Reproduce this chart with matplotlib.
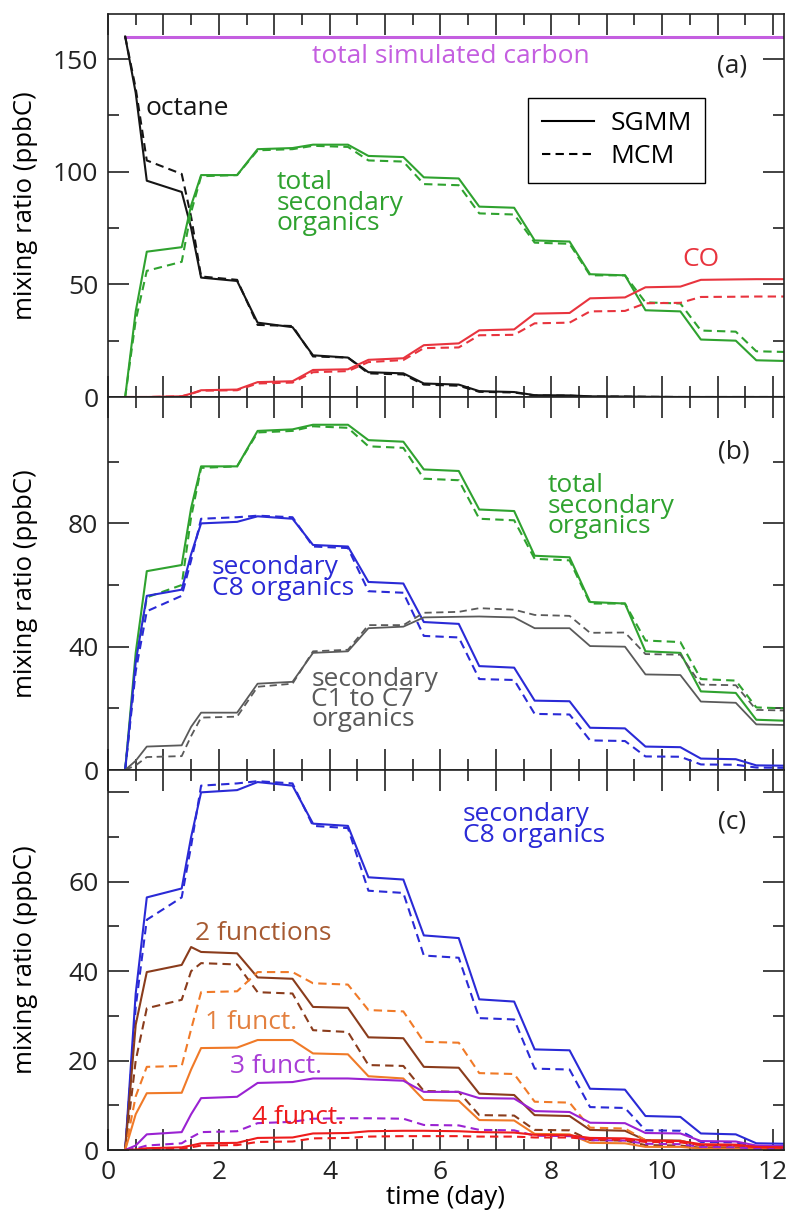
import matplotlib
matplotlib.use("Agg")
import matplotlib.pyplot as plt
from matplotlib.ticker import MultipleLocator, FixedLocator, FuncFormatter
from matplotlib.lines import Line2D

plt.rcParams['font.family'] = ['Open Sans', 'DejaVu Sans']

# time knots (day) shared by all series
t = [0.31, 0.5, 0.7, 1.33, 1.5, 1.68, 2.33, 2.7, 3.33, 3.7, 4.33, 4.7, 5.33, 5.7,
     6.33, 6.7, 7.33, 7.7, 8.33, 8.7, 9.33, 9.7, 10.33, 10.7, 11.33, 11.7, 12.2]

# ---- panel (a)
carbon_t = [0.31, 12.2]
carbon_total = [160, 160]
octane_sgmm = [160, 135, 96, 91, 75, 53, 51.5, 33, 31, 18.5, 17.5, 11, 10.5, 6,
               5.5, 2.6, 2.2, 0.8, 0.7, 0.3, 0.2, 0.1, 0, 0, 0, 0, 0]
octane_mcm = [160, 137, 105, 99, 80, 53.5, 52, 32, 31.5, 18, 17.5, 10.5, 10, 5.5,
              5, 2.3, 2, 0.7, 0.6, 0.2, 0.2, 0.1, 0, 0, 0, 0, 0]
co_sgmm = [0, 0, 0, 0.3, 1.5, 3, 3.3, 6.6, 7, 12, 12.3, 16.5, 17.2, 23, 23.8, 29.6,
           30, 37, 37.3, 43.8, 44.2, 48.7, 49, 52, 52.2, 52.3, 52.3]
co_mcm = [0, 0, 0, 0.3, 1.4, 2.8, 3, 6, 6.4, 11, 11.5, 15.5, 16.4, 21.7, 22, 27.4,
          27.6, 32.7, 33, 38, 38.2, 41.6, 41.8, 44.4, 44.5, 44.6, 44.6]

# ---- panel (b)
sec_total_sgmm = [0, 38, 64.5, 66.5, 85, 98.5, 98.5, 110, 110.5, 112, 112, 107, 106.5,
                  97.5, 97, 84.5, 84, 69.5, 69, 54.5, 54, 38.5, 38, 25.5, 25, 16.3, 16]
sec_total_mcm = [0, 34, 56, 60, 82, 98, 98.5, 109.5, 110, 111.5, 111, 105, 104.5,
                 94.5, 94, 81.5, 81, 68.5, 68, 54, 54, 42, 41.5, 29.5, 29, 20.3, 20]
c8_sgmm = [0, 35, 56.5, 58.5, 70, 80, 80.5, 82.3, 81.5, 73, 72.5, 61, 60.5, 48, 47.4,
           33.7, 33.2, 22.5, 22.3, 13.7, 13.5, 7.6, 7.4, 3.7, 3.5, 1.5, 1.4]
c8_mcm = [0, 32, 51.5, 56.5, 68, 81.5, 82, 82.5, 82, 72.5, 72, 58, 57.5, 43.5, 43,
          29.5, 29.2, 18.2, 18, 9.6, 9.4, 4.4, 4.3, 1.8, 1.7, 0.8, 0.7]
c1c7_sgmm = [0, 3, 7.6, 8, 14, 18.6, 18.6, 28, 28.6, 38, 38.5, 46, 46.5, 49.5, 49.7,
             49.8, 49.5, 46, 46, 40.2, 40, 31, 30.8, 22.2, 21.8, 14.8, 14.6]
c1c7_mcm = [0, 1.5, 4.2, 4.5, 11, 17, 17.3, 27, 28, 38.5, 39, 47, 47, 51, 51.3, 52.5,
            52, 50.3, 50, 44.5, 44.6, 37.6, 37.4, 27.7, 27.5, 19.5, 19.3]

# ---- panel (c)
f1_sgmm = [0, 8, 12.7, 12.8, 18, 22.8, 22.9, 24.6, 24.6, 21.6, 21.4, 16.5, 16, 11.2,
           11, 6.7, 6.6, 3.6, 3.5, 1.6, 1.5, 0.7, 0.7, 0.3, 0.3, 0.1, 0.1]
f1_mcm = [0, 12, 18.6, 18.8, 27, 35.3, 35.5, 39.8, 39.8, 37.3, 37, 31.3, 31, 24.2, 24,
          17.2, 17, 10.8, 10.6, 5, 4.8, 2.2, 2, 1, 1, 0.4, 0.4]
f2_sgmm = [0, 28, 39.8, 41.4, 45.4, 44.3, 44, 38.6, 38.3, 32, 31.8, 25.2, 25, 18.6,
           18.4, 12.6, 12.3, 7.8, 7.6, 4.5, 4.3, 2.2, 2.1, 1, 1, 0.5, 0.4]
f2_mcm = [0, 20, 31.7, 33.6, 40, 41.8, 41.5, 35.3, 35, 26.8, 26.4, 19, 18.8, 13.2, 13,
          7.8, 7.7, 4.5, 4.4, 2.2, 2.1, 1.1, 1, 0.5, 0.5, 0.2, 0.2]
f3_sgmm = [0, 1, 3.5, 4, 8, 11.6, 11.9, 15, 15.2, 16, 16, 15.8, 15.5, 13, 13, 11.6,
           11.5, 8.7, 8.5, 6.1, 6, 3.8, 3.7, 2, 1.9, 1, 0.9]
f3_mcm = [0, 0.3, 1, 1.5, 2.8, 4, 4.2, 6, 6.3, 7, 7.1, 7.1, 7, 5.6, 5.5, 4.5, 4.4, 3.2,
          3.1, 2.2, 2.1, 1.4, 1.3, 0.7, 0.6, 0.3, 0.3]
f4_sgmm = [0, 0.1, 0.4, 0.6, 1, 1.5, 1.6, 2.7, 2.8, 3.7, 3.8, 4.2, 4.3, 4.3, 4.2, 4,
           3.9, 3.4, 3.3, 2.7, 2.6, 2.1, 2, 1.3, 1.2, 0.7, 0.6]
f4_mcm = [0, 0, 0.2, 0.3, 0.6, 1, 1.1, 1.8, 1.9, 2.6, 2.7, 3, 3.1, 3.1, 3.1, 3, 3, 2.8,
          2.8, 2.4, 2.3, 1.8, 1.7, 1.1, 1, 0.6, 0.5]

#########################
C_CARB = '#c45ee0'
C_OCT = '#151515'
C_GREEN = '#2fa22f'
C_CO = '#e8343e'
C_BLUE = '#2a2ad6'
C_GRAY = '#5a5a5a'
C_F1 = '#f07a28'
C_F2 = '#8a3c1c'
C_F3 = '#9a22d2'
C_F4 = '#ee1c1c'

LW = 1.5
DASH = (0, (4, 2.5))
FS = 19      # annotation text
FS_TICK = 19
FS_LAB = 18.5

fig = plt.figure(figsize=(7.9, 12.14), dpi=100)
left, width = 108/790, 676/790
ax_a = fig.add_axes([left, 1-397/1214, width, 383/1214])
ax_b = fig.add_axes([left, 1-770/1214, width, 373/1214], sharex=ax_a)
ax_c = fig.add_axes([left, 1-1150/1214, width, 380/1214], sharex=ax_a)


def pair(ax, sgmm, mcm, color, lw=LW):
    ax.plot(t, sgmm, '-', color=color, lw=lw)
    ax.plot(t, mcm, linestyle=DASH, color=color, lw=lw)


# (a)
ax_a.plot(carbon_t, carbon_total, '-', color=C_CARB, lw=2.2)
pair(ax_a, octane_sgmm, octane_mcm, C_OCT)
pair(ax_a, sec_total_sgmm, sec_total_mcm, C_GREEN)
pair(ax_a, co_sgmm, co_mcm, C_CO)
ax_a.text(6.18, 151, "total simulated carbon", color=C_CARB, fontsize=FS, ha='center', va='center')
ax_a.text(0.67, 128, "octane", color=C_OCT, fontsize=FS, ha='left', va='center')
ax_a.text(3.04, 86, "total\nsecondary\norganics", color=C_GREEN, fontsize=FS,
          ha='left', va='center', linespacing=0.75)
ax_a.text(10.7, 61, "CO", color=C_CO, fontsize=FS, ha='center', va='center')
ax_a.text(11.26, 147, "(a)", color='#222222', fontsize=FS, ha='center', va='center')
handles = [Line2D([], [], color='black', lw=LW, ls='-'),
           Line2D([], [], color='black', lw=LW, ls=DASH)]
leg = ax_a.legend(handles, ["SGMM", "MCM"], loc='upper right', bbox_to_anchor=(0.883, 0.78),
                  borderaxespad=0, fontsize=FS, frameon=True, fancybox=False, framealpha=1,
                  handlelength=2.0, borderpad=0.5, labelspacing=0.3, handletextpad=0.6)
leg.get_frame().set_edgecolor('black')
leg.get_frame().set_linewidth(1.0)
ax_a.set_ylim(0, 170)
ax_a.yaxis.set_major_locator(FixedLocator([0, 50, 100, 150]))
ax_a.yaxis.set_minor_locator(FixedLocator([25, 75, 125]))

# (b)
pair(ax_b, sec_total_sgmm, sec_total_mcm, C_GREEN)
pair(ax_b, c8_sgmm, c8_mcm, C_BLUE)
pair(ax_b, c1c7_sgmm, c1c7_mcm, C_GRAY, lw=1.3)
ax_b.text(7.93, 85.6, "total\nsecondary\norganics", color=C_GREEN, fontsize=FS,
          ha='left', va='center', linespacing=0.75)
ax_b.text(1.87, 62.3, "secondary\nC8 organics", color=C_BLUE, fontsize=FS,
          ha='left', va='center', linespacing=0.75)
ax_b.text(3.67, 22.9, "secondary\nC1 to C7\norganics", color=C_GRAY, fontsize=FS,
          ha='left', va='center', linespacing=0.75)
ax_b.text(11.3, 103, "(b)", color='#222222', fontsize=FS, ha='center', va='center')
ax_b.set_ylim(0, 121)
ax_b.yaxis.set_major_locator(FixedLocator([0, 40, 80]))
ax_b.yaxis.set_minor_locator(FixedLocator([20, 60, 100]))

# (c)
pair(ax_c, c8_sgmm, c8_mcm, C_BLUE)
pair(ax_c, f2_sgmm, f2_mcm, C_F2)
pair(ax_c, f1_sgmm, f1_mcm, C_F1)
pair(ax_c, f3_sgmm, f3_mcm, C_F3)
pair(ax_c, f4_sgmm, f4_mcm, C_F4)
ax_c.text(6.4, 72.7, "secondary\nC8 organics", color=C_BLUE, fontsize=FS,
          ha='left', va='center', linespacing=0.75)
ax_c.text(1.57, 48.5, "2 functions", color='#a65a32', fontsize=FS, ha='left', va='center')
ax_c.text(1.75, 28.6, "1 funct.", color='#e3803f', fontsize=FS, ha='left', va='center')
ax_c.text(2.2, 18.6, "3 funct.", color='#a83ed6', fontsize=FS, ha='left', va='center')
ax_c.text(2.59, 7.2, "4 funct.", color=C_F4, fontsize=FS, ha='left', va='center')
ax_c.text(11.26, 73.4, "(c)", color='#222222', fontsize=FS, ha='center', va='center')
ax_c.set_ylim(0, 85)
ax_c.yaxis.set_major_locator(FixedLocator([0, 20, 40, 60, 80]))
ax_c.yaxis.set_major_formatter(FuncFormatter(lambda v, p: "" if v > 70 else "%d" % v))
ax_c.yaxis.set_minor_locator(FixedLocator([10, 30, 50, 70]))
ax_c.set_xlabel("time (day)", fontsize=FS_LAB, labelpad=0)

ax_a.set_xlim(0, 12.2)
ax_a.xaxis.set_major_locator(MultipleLocator(1))
ax_a.xaxis.set_minor_locator(MultipleLocator(0.5))
ax_c.xaxis.set_major_formatter(FuncFormatter(lambda v, p: "%d" % v if round(v) % 2 == 0 else ""))

for ax in (ax_a, ax_b, ax_c):
    ax.set_ylabel("mixing ratio (ppbC)", fontsize=FS_LAB)
    ax.yaxis.set_label_coords(-0.1036, 0.5)
    ax.tick_params(which='both', direction='in', top=True, right=True, width=1.2,
                   labelsize=FS_TICK, pad=7, colors='#222222')
    ax.tick_params(which='major', length=15)
    ax.tick_params(which='minor', length=8)
    for s in ax.spines.values():
        s.set_linewidth(1.2)
        s.set_color('#222222')
for ax in (ax_a, ax_b):
    ax.tick_params(labelbottom=False)

fig.savefig("out.png", dpi=100)
